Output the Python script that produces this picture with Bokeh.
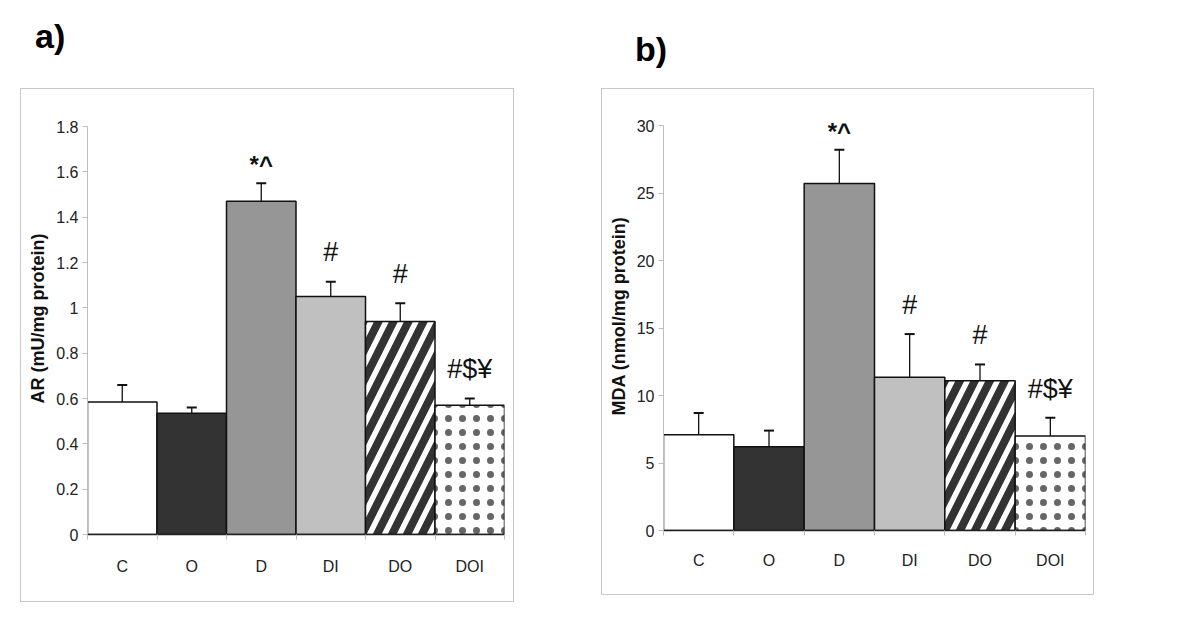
from bokeh.plotting import figure
from bokeh.layouts import row, column
from bokeh.models import (Range1d, FixedTicker, Whisker, TeeHead, Div, Spacer,
                          ColumnDataSource, LabelSet)
from bokeh.core.properties import value
from bokeh.embed import file_html
from bokeh.resources import INLINE

# ---------------- data ----------------
categories = ["C", "O", "D", "DI", "DO", "DOI"]

ar_mean = [0.585, 0.535, 1.47, 1.05, 0.94, 0.57]
ar_err = [0.075, 0.025, 0.08, 0.065, 0.08, 0.03]
ar_ticks = [0, 0.2, 0.4, 0.6, 0.8, 1.0, 1.2, 1.4, 1.6, 1.8]
ar_tick_labels = ["0", "0.2", "0.4", "0.6", "0.8", "1", "1.2", "1.4", "1.6", "1.8"]

mda_mean = [7.1, 6.2, 25.7, 11.35, 11.1, 7.0]
mda_err = [1.6, 1.2, 2.5, 3.2, 1.2, 1.35]
mda_ticks = [0, 5, 10, 15, 20, 25, 30]
mda_tick_labels = ["0", "5", "10", "15", "20", "25", "30"]

sig_labels = ["", "", "*^", "#", "#", "#$¥"]

panel_letters = ["a)", "b)"]
y_titles = ["AR (mU/mg protein)", "MDA (nmol/mg protein)"]

# ---------------- styles ----------------
fills = ["#ffffff", "#333333", "#969696", "#c0c0c0", "#ffffff", "#ffffff"]
hatches = [None, None, None, None, "right_diagonal_line", "dot"]
NARROW = "'Liberation Sans Narrow', 'Arial Narrow', 'Liberation Sans', sans-serif"
ARIAL = "Liberation Sans"


def make_panel(means, errs, ticks, tick_labels, ytitle, geom):
    (W, H, bl, br, bt, bb, axis_px, xstand) = geom
    n = len(categories)
    xs = [i + 0.5 for i in range(n)]
    span = ticks[-1] - ticks[0]
    frame_h = H - bt - bb
    y_end = ticks[-1] * frame_h / axis_px      # headroom above the top tick
    p = figure(width=W, height=H, output_backend="svg", toolbar_location=None,
               x_range=Range1d(0, n), y_range=Range1d(0, y_end),
               min_border_left=bl, min_border_right=br,
               min_border_top=bt, min_border_bottom=bb,
               styles={"border": "1px solid #c8c8c8"})
    p.outline_line_color = None
    p.xgrid.grid_line_color = None
    p.ygrid.grid_line_color = None
    p.background_fill_color = "white"
    p.border_fill_color = "white"

    # bars
    for i in range(n):
        kw = {}
        if hatches[i] == "right_diagonal_line":
            kw = dict(hatch_pattern=hatches[i], hatch_color="#333333",
                      hatch_scale=30, hatch_weight=8)
        elif hatches[i] == "dot":
            kw = dict(hatch_pattern="dot", hatch_color="#666666",
                      hatch_scale=14, hatch_weight=1)
        p.vbar(x=[xs[i]], top=[means[i]], bottom=0, width=1.0,
               fill_color=fills[i], line_color="#111111", line_width=1.5, **kw)

    # error bars (upper only)
    src = ColumnDataSource(dict(x=xs, lo=means,
                                hi=[m + e for m, e in zip(means, errs)]))
    w = Whisker(base="x", lower="lo", upper="hi", source=src,
                line_color="#111111", line_width=1.3,
                upper_head=TeeHead(size=10, line_color="#111111", line_width=2),
                lower_head=None, level="overlay")
    p.add_layout(w)

    # significance labels, floated a little above each error bar
    for bold in (True, False):
        idx = [i for i, lab in enumerate(sig_labels) if lab and (("*" in lab) == bold)]
        pad = (0.025 if bold else 0.05) * span
        lsrc = ColumnDataSource(dict(
            x=[xs[i] for i in idx],
            y=[means[i] + errs[i] + pad for i in idx],
            text=[sig_labels[i] for i in idx]))
        p.add_layout(LabelSet(x="x", y="y", text="text", source=lsrc,
                              text_align="center", text_baseline="alphabetic",
                              text_font=value(ARIAL),
                              text_font_size=value("24px" if bold else "27px"),
                              text_font_style=value("bold" if bold else "normal"),
                              text_color=value("#111111"), level="overlay"))

    # axes
    yax = p.yaxis[0]
    yax.ticker = FixedTicker(ticks=ticks)
    yax.bounds = (ticks[0], ticks[-1])
    yax.major_label_overrides = {t: l for t, l in zip(ticks, tick_labels)}
    yax.axis_line_color = "#bdbdbd"
    yax.major_tick_line_color = "#bdbdbd"
    yax.major_tick_out = 5
    yax.major_tick_in = 0
    yax.minor_tick_line_color = None
    yax.major_label_text_font = NARROW
    yax.major_label_text_font_size = "16px"
    yax.major_label_text_color = "#222222"
    yax.major_label_standoff = 4
    yax.axis_label = ytitle
    yax.axis_label_text_font = ARIAL
    yax.axis_label_text_font_style = "bold"
    yax.axis_label_text_font_size = "18px"
    yax.axis_label_text_color = "#111111"
    yax.axis_label_standoff = 5

    xax = p.xaxis[0]
    xax.ticker = FixedTicker(ticks=xs, minor_ticks=list(range(n + 1)))
    xax.major_label_overrides = {x: c for x, c in zip(xs, categories)}
    xax.axis_line_color = "#222222"
    xax.axis_line_width = 1.5
    xax.major_tick_line_color = None
    xax.major_tick_out = 0
    xax.major_tick_in = 0
    xax.minor_tick_line_color = "#bdbdbd"
    xax.minor_tick_out = 5
    xax.minor_tick_in = 0
    xax.major_label_text_font = NARROW
    xax.major_label_text_font_size = "16px"
    xax.major_label_text_color = "#222222"
    xax.major_label_standoff = xstand
    return p


def letter_div(letter, width, pad_top, pad_left):
    html = ('<div style="padding:%dpx 0 0 %dpx; font-family:\'Liberation Sans\', Arial, '
            'sans-serif; font-weight:bold; font-size:34px; color:#000; '
            'line-height:normal;">%s</div>' % (pad_top, pad_left, letter))
    return Div(text=html, width=width, height=88, margin=0)


# (width, height, border l, r, t, b, pixel length of axis, x-label standoff)
geom_a = (494, 514, 66, 11, 13, 69, 408, 18)
geom_b = (493, 507, 61, 10, 12, 66, 405, 16)

pa = make_panel(ar_mean, ar_err, ar_ticks, ar_tick_labels, y_titles[0], geom_a)
pb = make_panel(mda_mean, mda_err, mda_ticks, mda_tick_labels, y_titles[1], geom_b)

col_a = column(letter_div(panel_letters[0], 494, 17, 15), pa, spacing=0)
col_b = column(letter_div(panel_letters[1], 493, 30, 34), pb, spacing=0)

layout = row(Spacer(width=20, height=10), col_a, Spacer(width=87, height=10), col_b,
             spacing=0)
open("out.html", "w").write(file_html(layout, INLINE))
